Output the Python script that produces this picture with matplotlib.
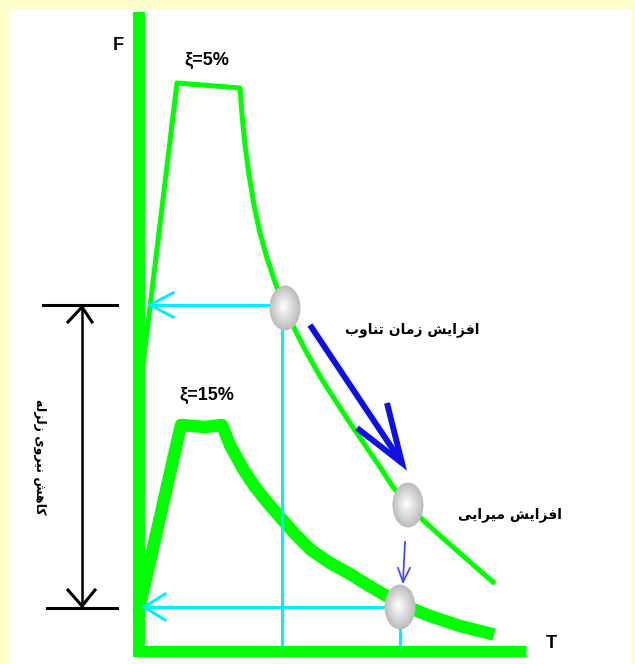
import matplotlib
matplotlib.use("Agg")
import matplotlib.pyplot as plt
from matplotlib.patches import Ellipse, Rectangle
import numpy as np

# ---------------------------------------------------------
# Data (T, F)
# ---------------------------------------------------------
t_5 = [0.00, 0.37, 1.00, 1.02, 1.05, 1.09, 1.14, 1.20, 1.27, 1.36, 1.45, 1.56, 1.68,
       1.81, 1.95, 2.10, 2.25, 2.40, 2.53, 2.68, 2.85, 3.05, 3.30, 3.53]
f_5 = [2.61, 5.68, 5.63, 5.36, 5.06, 4.76, 4.46, 4.18, 3.93, 3.66, 3.43, 3.19, 2.96,
       2.73, 2.51, 2.28, 2.06, 1.84, 1.64, 1.46, 1.29, 1.11, 0.89, 0.69]

t_15 = [0.00, 0.41, 0.65, 0.82, 0.90, 1.03, 1.15, 1.27, 1.40, 1.55, 1.71, 1.90, 2.10,
        2.26, 2.43, 2.60, 2.75, 2.90, 3.05, 3.20, 3.48]
f_15 = [0.46, 2.26, 2.24, 2.26, 2.06, 1.82, 1.64, 1.49, 1.34, 1.17, 1.01, 0.88, 0.77,
        0.67, 0.57, 0.48, 0.41, 0.35, 0.30, 0.25, 0.18]

# response points (T, F)
ball_t = [1.45, 2.68, 2.60]
ball_f = [3.43, 1.46, 0.44]

label_5 = "ξ=5%"
label_15 = "ξ=15%"
label_period = "افزایش زمان تناوب"
label_damping = "افزایش میرایی"
label_force = "کاهش نیروی زلزله"

# ---------------------------------------------------------
# Tiny Persian shaper (matplotlib has no bidi / joining)
# forms: [isolated, final, initial, medial]
# ---------------------------------------------------------
FORMS = {
    "ا": ["\uFE8D", "\uFE8E"],
    "ب": ["\uFE8F", "\uFE90", "\uFE91", "\uFE92"],
    "ت": ["\uFE95", "\uFE96", "\uFE97", "\uFE98"],
    "ر": ["\uFEAD", "\uFEAE"],
    "ز": ["\uFEAF", "\uFEB0"],
    "ش": ["\uFEB5", "\uFEB6", "\uFEB7", "\uFEB8"],
    "ف": ["\uFED1", "\uFED2", "\uFED3", "\uFED4"],
    "ک": ["\uFB8E", "\uFB8F", "\uFB90", "\uFB91"],
    "ل": ["\uFEDD", "\uFEDE", "\uFEDF", "\uFEE0"],
    "م": ["\uFEE1", "\uFEE2", "\uFEE3", "\uFEE4"],
    "ن": ["\uFEE5", "\uFEE6", "\uFEE7", "\uFEE8"],
    "ه": ["\uFEE9", "\uFEEA", "\uFEEB", "\uFEEC"],
    "و": ["\uFEED", "\uFEEE"],
    "ی": ["\uFBFC", "\uFBFD", "\uFBFE", "\uFBFF"],
}


def shape(text):
    out = []
    for i, ch in enumerate(text):
        if ch not in FORMS:
            out.append(ch)
            continue
        prev = text[i - 1] if i > 0 else None
        nxt = text[i + 1] if i + 1 < len(text) else None
        join_prev = prev in FORMS and len(FORMS[prev]) == 4
        join_next = nxt in FORMS and len(FORMS[ch]) == 4
        forms = FORMS[ch]
        if join_prev and join_next:
            out.append(forms[3])
        elif join_prev:
            out.append(forms[1])
        elif join_next:
            out.append(forms[2])
        else:
            out.append(forms[0])
    return "".join(out)[::-1]


# ---------------------------------------------------------
# Figure
# ---------------------------------------------------------
green = "#00FF00"
cyan = "#00F0FF"
fa_font = "DejaVu Sans"
lat_font = "Liberation Sans"

fig = plt.figure(figsize=(6.35, 6.64), dpi=100, facecolor="#FFFFCC")
ax = fig.add_axes([0, 0, 1, 1])
ax.set_xlim(-1.40, 4.95)
ax.set_ylim(-0.13, 6.51)
ax.axis("off")
# white panel inside the cream frame
ax.add_patch(Rectangle((10 / 635, 0), 622 / 635, 654 / 664, transform=ax.transAxes,
                       facecolor="white", edgecolor="none", zorder=0))

# spectra
ax.plot(t_5, f_5, color=green, lw=3.6, solid_joinstyle="round", zorder=2)
ax.plot(t_15, f_15, color=green, lw=9.0, solid_joinstyle="round", zorder=2)

# F and T axes
ax.plot([-0.01, -0.01], [-0.06, 6.39], color=green, lw=8.6, solid_capstyle="butt", zorder=3)
ax.plot([-0.07, 3.86], [0.0, 0.0], color=green, lw=8.2, solid_capstyle="butt", zorder=3)
ax.text(-0.22, 6.06, "F", fontsize=13, fontweight="bold", family=lat_font,
        ha="center", va="center")
ax.text(4.11, 0.08, "T", fontsize=13, fontweight="bold", family=lat_font,
        ha="center", va="center")

# damping labels
ax.text(0.67, 5.91, label_5, fontsize=13, fontweight="bold", family=lat_font,
        ha="center", va="center")
ax.text(0.67, 2.56, label_15, fontsize=13, fontweight="bold", family=lat_font,
        ha="center", va="center")

# cyan guides from response points
ax.plot([0.10, ball_t[0] - 0.13], [3.46, 3.46], color=cyan, lw=2.2, zorder=4)
ax.plot([0.10, 0.33], [3.46, 3.58], color=cyan, lw=2.2, zorder=4)
ax.plot([0.10, 0.33], [3.46, 3.34], color=cyan, lw=2.2, zorder=4)
ax.plot([ball_t[0] - 0.03, ball_t[0] - 0.03], [ball_f[0] - 0.22, 0.05], color=cyan, lw=2.2, zorder=4)

ax.plot([0.04, ball_t[2] - 0.13], [0.44, 0.44], color=cyan, lw=2.2, zorder=4)
ax.plot([0.04, 0.25], [0.44, 0.57], color=cyan, lw=2.2, zorder=4)
ax.plot([0.04, 0.25], [0.44, 0.31], color=cyan, lw=2.2, zorder=4)
ax.plot([ball_t[2], ball_t[2]], [ball_f[2] - 0.2, 0.05], color=cyan, lw=2.2, zorder=4)

# response points (shaded balls)
for bt, bf in zip(ball_t, ball_f):
    for k, s in enumerate(np.linspace(1.0, 0.08, 18)):
        g = 0.74 + 0.25 * (k / 17)
        ax.add_patch(Ellipse((bt - 0.02 * (1 - s), bf + 0.02 * (1 - s)), 0.31 * s, 0.45 * s,
                             facecolor=(g, g, g), edgecolor="none", zorder=6))

# period shift arrow
blue = "#1010E6"
ax.plot([1.70, 2.62], [3.26, 1.88], color=blue, lw=4.3, solid_capstyle="butt", zorder=5)
ax.plot([2.17, 2.62, 2.47], [2.23, 1.88, 2.48], color=blue, lw=4.3,
        solid_joinstyle="miter", solid_capstyle="butt", zorder=5)
ax.text(2.72, 3.21, shape(label_period), fontsize=10, fontweight="bold", family=fa_font,
        ha="center", va="center")

# damping drop arrow
ax.plot([2.65, 2.63], [1.09, 0.69], color="#4848FF", lw=1.3, zorder=5)
ax.plot([2.58, 2.63, 2.70], [0.83, 0.69, 0.83], color="#4848FF", lw=1.3, zorder=5)
ax.text(3.70, 1.36, shape(label_damping), fontsize=10, fontweight="bold", family=fa_font,
        ha="center", va="center")

# force reduction dimension
ax.plot([-0.97, -0.23], [3.46, 3.46], color="black", lw=2.2)
ax.plot([-0.93, -0.23], [0.43, 0.43], color="black", lw=2.2)
ax.plot([-0.58, -0.58], [3.44, 0.45], color="black", lw=1.8)
ax.plot([-0.72, -0.58, -0.48], [3.29, 3.44, 3.29], color="black", lw=2.2)
ax.plot([-0.72, -0.58, -0.45], [0.61, 0.45, 0.61], color="black", lw=2.2)
ax.text(-1.00, 1.94, shape(label_force), fontsize=9, fontweight="bold", family=fa_font,
        rotation=-90, ha="center", va="center")

fig.savefig("out.png", dpi=100, facecolor=fig.get_facecolor())
